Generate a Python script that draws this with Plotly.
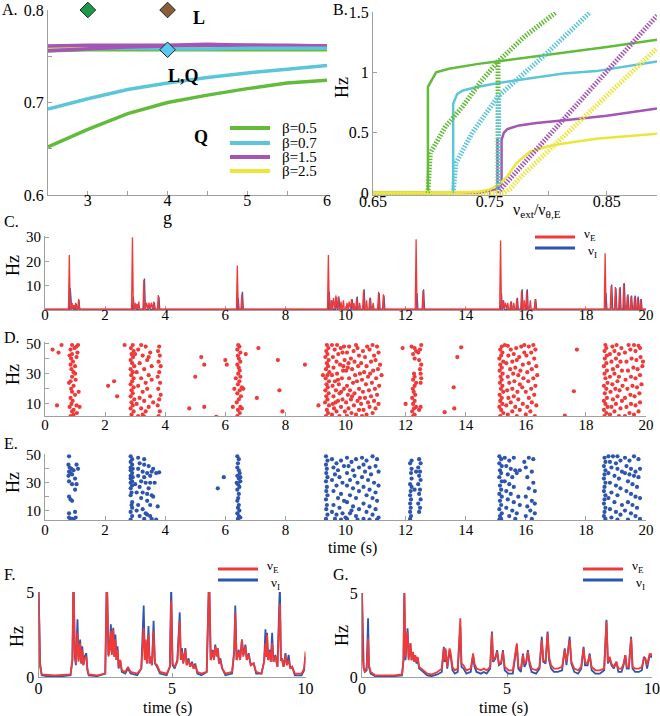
import plotly.graph_objects as go

W, H = 660, 716
FONT = "Liberation Serif"
AXC = "#a0a0a0"
GREEN, CYAN, PURPLE, YELLOW = "#62bb3a", "#5cc6d8", "#a455b5", "#ece63c"
RED, BLUE = "#f03a3a", "#2d55ae"

# ---------------- Panel A data ----------------
A_g = [2.5, 3.0, 3.5, 4.0, 4.5, 5.0, 5.5, 6.0]
A_low_b05 = [0.652, 0.671, 0.688, 0.700, 0.708, 0.715, 0.721, 0.724]
A_low_b07 = [0.693, 0.704, 0.714, 0.721, 0.727, 0.732, 0.736, 0.740]
A_up_b05 = [0.756, 0.757, 0.757, 0.757, 0.757, 0.757, 0.757, 0.757]
A_up_b07 = [0.758, 0.758, 0.759, 0.758, 0.758, 0.759, 0.759, 0.759]
A_up_b25 = [0.760, 0.761, 0.761, 0.761, 0.761, 0.761, 0.761, 0.760]
A_up_b15a = [0.761, 0.762, 0.762, 0.762, 0.763, 0.762, 0.762, 0.761]
A_up_b15b = [0.756, 0.758, 0.760, 0.761, 0.762, 0.762, 0.761, 0.761]
A_beta_labels = ["β=0.5", "β=0.7", "β=1.5", "β=2.5"]
A_diamond_g = [3.0, 4.0, 4.0]
A_diamond_v = [0.8, 0.8, 0.757]

# ---------------- Panel B data ----------------
B_gs_x = [0.65, 0.697, 0.697, 0.704, 0.715, 0.727, 0.74, 0.756, 0.78, 0.813, 0.85, 0.893]
B_gs_y = [0.0, 0.0, 0.88, 1.0, 1.03, 1.05, 1.07, 1.09, 1.12, 1.16, 1.21, 1.27]
B_gd_x = [0.697, 0.699, 0.712, 0.727, 0.742, 0.757, 0.78, 0.807]
B_gd_y = [0.0, 0.33, 0.55, 0.72, 0.92, 1.09, 1.30, 1.5]
B_gv_x = [0.757, 0.757]
B_gv_y = [0.0, 1.09]
B_cs_x = [0.65, 0.7186, 0.7186, 0.722, 0.727, 0.74, 0.756, 0.784, 0.813, 0.841, 0.893]
B_cs_y = [0.0, 0.0, 0.74, 0.82, 0.85, 0.88, 0.91, 0.95, 0.99, 1.01, 1.09]
B_cd_x = [0.7186, 0.721, 0.735, 0.757, 0.80, 0.836]
B_cd_y = [0.0, 0.25, 0.50, 0.80, 1.17, 1.5]
B_cv_x = [0.7575, 0.7575]
B_cv_y = [0.0, 0.80]
B_ps_x = [0.65, 0.74, 0.755, 0.759, 0.760, 0.760, 0.762, 0.765, 0.775, 0.79, 0.82, 0.85, 0.893]
B_ps_y = [0.0, 0.0, 0.03, 0.06, 0.1, 0.44, 0.50, 0.53, 0.56, 0.58, 0.61, 0.64, 0.70]
B_pv_x = [0.7565, 0.7565]
B_pv_y = [0.04, 0.45]
B_pd_x = [0.757, 0.760, 0.893]
B_pd_y = [0.0, 0.04, 1.47]
B_ys_x = [0.65, 0.72, 0.74, 0.75, 0.758, 0.765, 0.773, 0.784, 0.799, 0.813, 0.841, 0.893]
B_ys_y = [0.0, 0.0, 0.01, 0.03, 0.07, 0.14, 0.25, 0.34, 0.385, 0.41, 0.45, 0.49]
B_yd_x = [0.65, 0.762, 0.768, 0.775, 0.893]
B_yd_y = [0.0, 0.0, 0.04, 0.12, 1.2]

# ---------------- Panel C data (peak times / heights) ----------------
C_E_pk_t = [0.81, 0.90, 0.96, 1.02, 1.12,
            2.91, 3.00, 3.06, 3.12, 3.29, 3.38, 3.46, 3.54, 3.62, 3.77,
            6.40, 6.55,
            9.43, 9.52, 9.60, 9.68, 9.76, 9.85, 9.93, 10.05, 10.12, 10.20, 10.28, 10.37, 10.47, 10.60, 10.70, 10.81, 10.92, 11.10, 11.26,
            12.35, 12.58,
            15.16, 15.24, 15.32, 15.40, 15.50, 15.60, 15.70, 15.86, 15.95, 16.03, 16.15, 16.31,
            18.64, 18.84, 18.98, 19.12, 19.26, 19.38, 19.50, 19.62, 19.72, 19.82]
C_E_pk_h = [22.7, 3.0, 2.0, 3.0, 4.5,
            30.0, 3.0, 2.5, 3.5, 12.5, 3.0, 3.0, 3.0, 3.5, 6.2,
            18.3, 6.5,
            22.7, 4.0, 5.0, 6.0, 5.5, 3.5, 4.0, 3.0, 3.5, 4.5, 3.0, 5.0, 3.0, 8.0, 4.0, 5.0, 3.0, 7.5, 6.5,
            29.2, 8.0,
            28.6, 4.0, 3.0, 3.0, 3.5, 3.0, 4.7, 8.0, 4.0, 8.0, 4.0, 4.5,
            23.4, 10.0, 9.5, 9.0, 11.0, 6.0, 5.5, 5.5, 5.0, 4.5]
C_I_pk_t = [0.84, 0.92, 1.04, 1.13, 2.94, 3.02, 3.31, 3.48, 3.64, 3.79, 6.43, 6.57,
            9.46, 9.55, 9.70, 9.78, 10.22, 10.39, 10.62, 10.83, 11.12, 11.28, 12.38, 12.60,
            15.19, 15.26, 15.52, 15.72, 15.88, 16.05, 16.33,
            18.67, 18.86, 19.00, 19.14, 19.28, 19.40, 19.52, 19.64, 19.74, 19.84]
C_I_pk_h = [9.0, 2.0, 2.5, 4.0, 5.5, 2.5, 13.0, 2.5, 3.0, 5.5, 5.0, 7.5,
            7.5, 4.0, 5.0, 5.5, 4.5, 5.5, 8.5, 5.0, 7.0, 6.0, 7.0, 8.5,
            7.0, 4.0, 3.5, 5.0, 8.5, 8.5, 4.5,
            7.0, 10.5, 9.0, 9.5, 11.0, 6.5, 6.0, 6.0, 5.5, 4.5]
C_diamond_t = [0.67]
C_diamond_v = [32.2]

# ---------------- Panel D raster (time s, neuron) ----------------
D_spikes = [
    (0.85,2),(0.95,3),(0.9,5),(0.82,8),(0.88,10),(1.05,9),(0.92,12),(0.85,14),(1.0,16),(0.9,18),(1.12,18),(0.87,20),
    (0.95,22),(0.85,25),(1.02,26),(0.9,28),(0.95,31),(0.88,33),(1.0,35),(0.85,36),(0.93,38),(0.87,40),(1.05,41),(0.9,43),
    (1.08,44),(0.85,46),(0.98,47),(1.05,48),(0.9,49),(1.1,49),(0.95,6),(1.06,4),(0.8,24),(1.0,30),(0.82,42),
    (0.25,46),(0.45,44),(0.55,49),(0.4,9),(1.15,8),
    (2.88,3),(2.95,5),(2.85,7),(2.92,9),(2.88,11),(2.97,13),(2.85,15),(2.92,17),(2.88,19),(2.95,21),(2.85,23),(2.9,25),
    (2.95,27),(2.87,29),(2.92,31),(2.85,33),(2.97,35),(2.9,37),(2.85,39),(2.93,41),(2.88,43),(2.95,45),(2.86,47),(2.92,49),
    (3.1,2),(3.25,3),(3.35,5),(3.2,7),(3.45,8),(3.05,10),(3.3,12),(3.15,14),(3.5,15),(3.25,18),(3.4,20),(3.1,22),(3.35,24),
    (3.2,27),(3.45,29),(3.05,31),(3.3,33),(3.55,35),(3.15,37),(3.4,39),(3.25,42),(3.5,44),(3.1,46),(3.35,48),(3.2,49),
    (3.6,11),(3.55,26),(3.45,41),(3.0,43),(3.3,1.5),
    (3.78,2),(3.82,5),(3.75,9),(3.8,13),(3.85,16),(3.77,20),(3.83,24),(3.75,28),(3.8,31),(3.85,35),(3.78,38),(3.82,42),(3.76,45),(3.8,48),
    (2.1,22),(2.3,25),(2.4,15),(2.65,49),
    (6.4,2),(6.48,4),(6.42,6),(6.5,8),(6.38,11),(6.45,13),(6.52,15),(6.4,17),(6.48,19),(6.55,21),(6.42,23),(6.47,25),
    (6.5,28),(6.43,30),(6.48,32),(6.45,34),(6.4,36),(6.5,38),(6.45,40),(6.42,42),(6.5,44),(6.4,46),(6.47,48),(6.43,49),
    (6.55,7),(6.6,20),(6.35,27),
    (4.8,7),(5.0,28),(5.2,41),(5.3,8),(5.3,36),(5.7,1.5),(6.0,39),(6.05,36),(6.25,8),(6.3,20),(6.68,43),(7.1,47),(7.05,14),
    (7.75,39),(7.8,19),(7.9,5),(8.65,36),
    (9.35,2),(9.42,4),(9.38,6),(9.45,9),(9.32,11),(9.4,13),(9.36,15),(9.44,17),(9.33,19),(9.41,21),(9.37,23),(9.45,25),
    (9.34,27),(9.4,29),(9.46,31),(9.35,33),(9.42,35),(9.38,37),(9.44,39),(9.33,41),(9.4,43),(9.36,45),(9.43,47),(9.38,49),
    (9.55,3),(9.7,5),(9.62,7),(9.85,8),(9.58,10),(9.75,12),(9.9,13),(9.6,15),(9.8,17),(9.68,19),(9.95,20),(9.57,22),
    (9.78,23),(9.65,25),(9.88,27),(9.55,29),(9.72,30),(9.92,32),(9.6,34),(9.82,36),(9.7,38),(9.97,39),(9.58,41),(9.76,43),
    (9.9,44),(9.64,46),(9.84,47),(9.55,49),(9.72,49),(9.95,48),(9.8,2),(9.98,5),(9.67,11),(9.86,18),(9.75,26),(9.93,35),
    (10.05,2),(10.2,4),(10.35,3),(10.1,7),(10.28,9),(10.45,6),(10.02,11),(10.18,13),(10.4,12),(10.08,16),(10.3,17),
    (10.15,19),(10.45,20),(10.05,22),(10.25,24),(10.38,25),(10.12,27),(10.32,29),(10.48,30),(10.02,32),(10.22,33),
    (10.42,35),(10.1,37),(10.3,38),(10.18,40),(10.45,42),(10.05,44),(10.27,45),(10.4,47),(10.12,48),(10.35,49),
    (10.22,15),(10.48,14),(10.08,34),
    (10.55,2),(10.7,3),(10.9,4),(10.6,6),(10.8,8),(11.0,7),(10.52,10),(10.75,11),(10.95,12),(11.1,10),(10.65,14),
    (10.85,15),(11.05,16),(10.58,18),(10.78,19),(10.98,20),(11.12,22),(10.68,23),(10.88,24),(10.55,26),(11.02,27),
    (10.75,28),(11.2,29),(10.62,31),(10.92,32),(11.08,33),(10.7,35),(10.52,37),(10.85,38),(11.0,39),(10.65,41),
    (10.95,42),(11.1,44),(10.58,45),(10.8,46),(10.72,48),(10.9,49),(11.05,48),(11.15,36),(10.82,30),
    (9.1,9),(9.25,29),
    (12.25,2),(12.3,3),(12.22,5),(12.28,7),(12.35,8),(12.25,10),(12.3,12),(12.22,14),(12.32,16),(12.27,18),(12.24,20),
    (12.3,22),(12.35,24),(12.25,26),(12.3,28),(12.28,30),(12.5,24),(12.52,27),(12.5,30),(12.48,33),(12.52,36),(12.45,39),
    (12.3,40),(12.25,43),(12.35,45),(12.48,46),(12.3,47),(12.52,49),(12.2,48),(12.5,8),(12.45,6),(12.42,44),
    (11.9,47),(12.0,10),(13.3,4.5),(13.6,21),(13.62,7),(13.72,41),(13.85,47.5),
    (15.15,2),(15.25,4),(15.18,6),(15.12,8),(15.22,10),(15.15,12),(15.2,14),(15.13,16),(15.25,18),(15.17,20),(15.22,22),
    (15.14,24),(15.2,26),(15.16,28),(15.23,30),(15.13,32),(15.2,34),(15.15,36),(15.25,38),(15.12,40),(15.18,42),
    (15.22,44),(15.15,46),(15.2,48),(15.3,49),
    (15.4,3),(15.55,5),(15.7,2),(15.35,9),(15.5,11),(15.65,8),(15.8,6),(15.42,14),(15.6,15),(15.75,13),(15.9,10),
    (15.38,19),(15.55,20),(15.72,18),(15.88,21),(15.45,24),(15.62,25),(15.8,23),(15.4,28),(15.58,30),(15.75,29),
    (15.92,27),(15.48,33),(15.65,34),(15.82,32),(15.35,37),(15.55,38),(15.7,39),(15.9,36),(15.42,42),(15.6,43),
    (15.78,41),(15.95,44),(15.5,46),(15.68,47),(15.85,48),(15.4,48.5),(15.95,49),
    (16.0,3),(16.15,5),(16.3,2),(16.05,8),(16.2,11),(16.35,9),(16.1,14),(16.28,16),(16.0,18),(16.18,20),(16.32,22),
    (16.08,25),(16.25,27),(16.38,29),(16.05,31),(16.2,33),(16.35,35),(16.1,37),(16.28,40),(16.02,42),(16.18,44),
    (16.32,46),(16.1,48),(16.25,49),
    (17.3,2.2),(17.6,18.4),(17.7,46),
    (18.62,2),(18.68,4),(18.6,6),(18.72,8),(18.65,10),(18.6,12),(18.7,14),(18.63,17),(18.68,20),(18.6,22),(18.72,24),
    (18.65,27),(18.62,30),(18.7,32),(18.6,35),(18.68,37),(18.63,40),(18.7,42),(18.62,45),(18.68,47),(18.65,49),
    (18.8,3),(18.95,5),(19.1,2),(18.85,8),(19.0,10),(19.15,7),(18.9,13),(19.05,15),(19.2,12),(18.82,18),(18.98,20),
    (19.12,19),(18.88,23),(19.05,25),(19.22,22),(18.8,28),(18.95,30),(19.1,28),(18.9,33),(19.05,35),(19.2,32),
    (18.85,38),(19.0,40),(19.15,38),(18.8,43),(18.95,45),(19.1,43),(18.88,48),(19.02,49),(19.18,47),
    (19.3,2),(19.45,4),(19.6,3),(19.75,5),(19.35,8),(19.5,10),(19.65,9),(19.8,11),(19.3,14),(19.48,16),(19.62,15),
    (19.78,17),(19.38,20),(19.55,22),(19.7,21),(19.85,23),(19.32,26),(19.5,28),(19.65,27),(19.8,29),(19.4,32),
    (19.58,34),(19.72,33),(19.88,35),(19.35,38),(19.52,40),(19.68,39),(19.82,41),(19.3,44),(19.48,46),(19.65,45),
    (19.8,47),(19.42,49),(19.6,49),(19.75,48.5),(19.9,38),
]

# ---------------- Panel E raster (time s, neuron) ----------------
E_spikes = [
    (0.8,49),(0.78,43),(0.82,41),(0.88,40),(0.8,38),(0.85,37),(0.9,36),(0.78,35),(0.95,39),(1.05,43),(1.1,40),(0.8,31),
    (0.9,29),(1.05,29),(1.0,33),(1.0,25),(0.8,20),(0.85,18),(0.9,17),(0.8,8),(1.0,9),(0.8,5),(0.9,4),(0.85,3.5),
    (0.95,3.5),(1.02,5),
    (2.85,49),(2.9,47),(2.85,45),(2.9,43),(2.85,41),(2.92,40),(2.85,39),(2.9,37),(2.85,35),(2.92,34),(2.85,33),(2.9,31),
    (2.85,30),(2.9,28),(2.85,26),(2.88,23),(2.85,21),(2.9,16),(2.88,14),(2.85,9),(2.9,6),(2.85,3.5),(2.9,12),
    (3.1,48),(3.3,47),(3.15,44),(3.3,43),(3.45,42),(3.6,40),(3.1,40),(3.25,38),(3.4,37),(3.55,38),(3.7,37),(3.8,37.5),
    (3.1,35),(3.3,34),(3.5,35),(3.2,31),(3.35,30),(3.5,30),(3.65,30),(3.0,29),(3.15,27),(3.45,26),(3.25,23),(3.4,22),
    (3.05,23),(3.55,21),(3.6,20),(3.2,19),(3.4,17),(3.1,14),(3.5,14),(3.75,13),(3.25,11),(3.05,10),(3.4,7),(3.15,6),
    (3.5,6),(3.3,4),(3.7,3.5),(3.55,4),(3.35,8),
    (6.4,49),(6.45,47),(6.42,44),(6.4,41),(6.45,39),(6.48,37),(6.4,35),(6.45,33),(6.5,31),(6.42,29),(6.47,27),(6.4,25),
    (6.45,22),(6.43,19),(6.4,17),(6.45,14),(6.42,12),(6.47,10),(6.4,8),(6.45,6),(6.42,4),(6.5,5),(6.38,30),(6.5,34),
    (5.75,26),(5.95,34),
    (9.35,49),(9.4,46),(9.35,43),(9.38,40),(9.36,37),(9.4,34),(9.35,31),(9.38,27),(9.36,24),(9.4,21),(9.35,18),(9.38,14),
    (9.36,11),(9.4,7),(9.35,4),
    (9.55,47),(9.7,44),(9.85,46),(9.6,41),(9.75,39),(9.95,42),(9.65,36),(9.8,34),(9.55,32),(9.9,30),(9.7,28),(9.6,24),
    (9.85,22),(9.75,19),(9.95,17),(9.6,14),(9.8,12),(9.55,9),(9.7,7),(9.9,8),(9.65,4),(9.85,3.5),(10.0,5),
    (10.05,48),(10.2,45),(10.35,47),(10.1,42),(10.25,39),(10.45,41),(10.05,37),(10.3,35),(10.15,32),(10.4,30),(10.05,28),
    (10.25,26),(10.45,24),(10.15,21),(10.35,19),(10.05,16),(10.25,13),(10.45,11),(10.15,8),(10.35,6),(10.05,4),
    (10.4,3.5),(10.2,10),
    (10.55,48),(10.7,46),(10.9,49),(11.05,47),(10.6,43),(10.8,41),(11.0,42),(10.65,38),(10.85,36),(11.1,38),(10.55,34),
    (10.75,32),(10.95,30),(11.1,28),(10.6,27),(10.8,25),(11.0,23),(10.7,21),(10.9,19),(11.05,17),(10.6,15),(10.8,13),
    (11.0,11),(10.7,9),(10.9,7),(11.1,5),(10.6,4),(10.8,3.5),(11.05,3.5),
    (12.15,4),(12.18,6),(12.15,9),(12.17,12),(12.15,15),(12.18,18),(12.15,21),(12.17,24),(12.2,27),(12.15,29),(12.2,33),
    (12.18,37),(12.2,40),(12.15,44),(12.2,46),(12.45,47),(12.5,44),(12.42,41),(12.48,38),(12.45,35),(12.5,32),(12.42,29),
    (12.48,25),(12.45,22),(12.5,18),(12.42,15),(12.48,12),(12.45,9),(12.3,25),(12.35,38),
    (15.12,49),(15.18,47),(15.12,44),(15.2,42),(15.14,39),(15.18,37),(15.12,34),(15.2,31),(15.14,28),(15.18,25),
    (15.12,22),(15.2,20),(15.14,17),(15.18,14),(15.12,11),(15.2,8),(15.14,6),(15.18,4),(15.12,3.5),
    (15.3,48),(15.45,46),(15.6,48),(15.35,42),(15.5,40),(15.65,39),(15.8,39),(15.4,36),(15.55,34),(15.7,37),(15.3,31),
    (15.45,29),(15.6,27),(15.35,24),(15.5,22),(15.75,20),(15.4,18),(15.6,16),(15.8,14),(15.35,12),(15.55,10),(15.7,8),
    (15.45,6),(15.65,4),
    (15.95,45),(16.1,48),(16.25,47),(16.0,41),(16.2,38),(16.05,34),(16.25,30),(16.1,26),(16.3,24),(16.0,20),(16.2,17),
    (16.3,15),(16.05,13),(16.15,10),(16.3,8),(16.0,6),(16.2,4),
    (18.62,48),(18.65,45),(18.6,42),(18.65,39),(18.62,36),(18.6,33),(18.65,30),(18.62,27),(18.6,24),(18.65,21),
    (18.62,18),(18.6,15),(18.65,12),(18.62,9),(18.6,6),(18.65,4),
    (18.75,49),(18.9,49),(19.05,49),(18.8,45),(19.0,44),(19.15,46),(18.85,41),(19.05,40),(19.2,38),(18.75,37),
    (18.95,35),(19.1,33),(18.8,30),(19.0,28),(19.15,26),(18.85,23),(19.05,21),(18.75,19),(18.95,16),(19.2,14),
    (18.8,11),(19.0,9),(19.15,7),(18.85,5),(19.05,3.5),
    (19.3,48),(19.45,46),(19.6,49),(19.75,47),(19.35,42),(19.5,40),(19.65,38),(19.8,40),(19.3,37),(19.45,36),
    (19.6,35),(19.75,34),(19.4,31),(19.55,29),(19.7,27),(19.35,24),(19.5,22),(19.65,20),(19.8,19),(19.4,16),
    (19.55,14),(19.7,12),(19.3,10),(19.5,8),(19.65,6),(19.8,4),(19.4,3.5),
]

# ---------------- Panel F data (time, nu_E, nu_I) ----------------
F_t = [0.00, 0.03, 0.06, 0.12, 0.3, 0.6, 0.9, 1.2, 1.27, 1.31, 1.36, 1.40, 1.46, 1.50, 1.56, 1.60, 1.64, 1.68, 1.73,
       1.79, 1.83, 1.88, 2.2, 2.5, 2.56, 2.62, 2.67, 2.71, 2.75, 2.80, 2.84, 2.88, 2.92, 2.96, 3.00, 3.06, 3.12, 3.25,
       3.35, 3.45, 3.7, 3.85, 3.94, 3.98, 4.02, 4.06, 4.12, 4.16, 4.20, 4.25, 4.31, 4.36, 4.44, 4.55, 4.8, 4.92, 4.97,
       5.02, 5.10, 5.20, 5.29, 5.33, 5.37, 5.42, 5.50, 5.55, 5.62, 5.68, 5.75, 5.81, 5.87, 5.95, 6.1, 6.3, 6.39, 6.45,
       6.52, 6.57, 6.62, 6.67, 6.72, 6.76, 6.81, 6.88, 7.0, 7.25, 7.33, 7.37, 7.42, 7.50, 7.55, 7.62, 7.67, 7.75, 7.80,
       7.87, 7.95, 8.06, 8.15, 8.35, 8.45, 8.50, 8.53, 8.56, 8.60, 8.66, 8.70, 8.75, 8.80, 8.87, 8.95, 9.04, 9.08, 9.12,
       9.18, 9.25, 9.30, 9.37, 9.43, 9.50, 9.60, 9.85, 9.95, 10.0]
F_E = [5.5, 2.0, 0.6, 0.15, 0.12, 0.1, 0.12, 0.15, 1.0, 6.0, 1.5, 0.8, 2.6, 0.9, 2.0, 0.8, 1.6, 0.7, 1.1,
       1.2, 0.5, 0.15, 0.1, 0.2, 6.0, 1.2, 1.6, 2.7, 1.3, 2.8, 1.2, 2.2, 1.0, 1.6, 0.6, 1.0, 0.4, 0.3,
       0.6, 0.3, 0.2, 0.5, 2.9, 1.0, 2.2, 0.8, 2.5, 0.8, 1.2, 0.7, 2.7, 0.8, 0.7, 0.3, 0.2, 0.6, 4.5,
       0.8, 0.6, 0.9, 3.3, 1.0, 1.5, 0.8, 1.6, 0.7, 1.0, 0.6, 0.8, 0.5, 0.7, 0.3, 0.2, 0.3, 6.0, 1.0,
       1.5, 1.0, 1.8, 1.2, 1.7, 0.8, 1.0, 0.5, 0.2, 0.3, 1.5, 3.8, 1.0, 1.5, 1.0, 2.2, 1.2, 1.8, 1.0,
       1.3, 0.7, 0.8, 0.3, 0.2, 0.9, 2.0, 1.2, 2.5, 1.0, 1.5, 0.9, 2.0, 0.9, 1.2, 0.6, 4.3, 1.0, 1.0,
       0.6, 1.3, 0.7, 1.0, 0.5, 0.6, 0.2, 0.2, 0.5, 1.5]
F_I = [5.5, 3.0, 0.8, 0.1, 0.05, 0.05, 0.05, 0.1, 1.0, 6.0, 1.2, 0.7, 3.4, 1.0, 2.2, 0.8, 1.8, 0.7, 1.2,
       1.4, 0.4, 0.1, 0.05, 0.2, 6.0, 1.3, 1.8, 3.1, 1.5, 2.9, 1.2, 2.5, 1.0, 1.8, 0.5, 1.0, 0.3, 0.2,
       0.5, 0.2, 0.1, 0.5, 4.2, 1.2, 2.0, 0.8, 3.0, 0.8, 1.2, 0.7, 3.3, 0.8, 0.6, 0.2, 0.1, 0.6, 5.5,
       0.7, 0.5, 1.0, 3.8, 1.0, 1.7, 0.8, 1.7, 0.7, 1.1, 0.6, 0.9, 0.5, 0.8, 0.2, 0.1, 0.3, 6.0, 1.0,
       1.6, 1.1, 1.9, 1.3, 1.5, 0.8, 1.1, 0.5, 0.1, 0.2, 1.5, 4.2, 1.0, 1.6, 1.0, 2.2, 1.3, 1.9, 1.0,
       1.4, 0.7, 0.8, 0.2, 0.2, 0.9, 2.8, 1.2, 2.6, 1.0, 1.6, 0.9, 2.6, 0.9, 1.3, 0.6, 5.5, 1.0, 1.1,
       0.6, 1.4, 0.7, 1.3, 0.5, 0.6, 0.1, 0.1, 0.4, 1.2]

# ---------------- Panel G data (time, nu_E, nu_I) ----------------
G_t = [0.00, 0.03, 0.06, 0.10, 0.16, 0.21, 0.24, 0.30, 0.45, 0.8, 1.1, 1.38, 1.43, 1.46, 1.50, 1.57, 1.61, 1.67, 1.71,
       1.76, 1.80, 1.84, 1.88, 1.92, 1.97, 2.05, 2.13, 2.25, 2.4, 2.6, 2.75, 2.82, 2.85, 2.88, 2.94, 3.02, 3.06, 3.12,
       3.20, 3.30, 3.39, 3.43, 3.50, 3.60, 3.75, 3.83, 3.88, 3.95, 4.1, 4.2, 4.3, 4.42, 4.48, 4.52, 4.60, 4.66, 4.72,
       4.80, 4.86, 4.92, 5.05, 5.2, 5.34, 5.39, 5.48, 5.55, 5.60, 5.66, 5.72, 5.78, 5.85, 6.0, 6.12, 6.20, 6.25, 6.33,
       6.40, 6.45, 6.52, 6.62, 6.75, 6.9, 6.99, 7.05, 7.16, 7.22, 7.32, 7.45, 7.56, 7.64, 7.69, 7.78, 7.85, 7.92, 8.05,
       8.2, 8.35, 8.43, 8.48, 8.54, 8.60, 8.68, 8.77, 8.84, 8.95, 9.02, 9.08, 9.13, 9.20, 9.28, 9.33, 9.42, 9.55, 9.65,
       9.72, 9.77, 9.83, 9.92, 9.97, 10.0]
G_E = [5.0, 1.0, 0.5, 0.3, 0.6, 2.3, 0.7, 0.3, 0.1, 0.1, 0.1, 0.15, 1.0, 5.0, 1.2, 2.7, 1.0, 2.0, 1.0,
       1.5, 0.9, 1.3, 0.9, 1.2, 0.6, 0.5, 0.4, 0.2, 0.15, 0.3, 0.5, 1.7, 1.0, 1.7, 0.6, 1.7, 1.4, 0.6,
       0.4, 0.5, 3.5, 0.8, 0.7, 0.4, 0.5, 1.4, 0.8, 0.5, 0.4, 0.5, 0.4, 0.6, 2.6, 1.0, 1.2, 1.5, 0.8,
       0.9, 1.5, 0.6, 0.4, 0.4, 2.0, 0.6, 0.5, 1.3, 0.8, 0.9, 1.5, 0.9, 0.5, 0.4, 0.6, 2.2, 1.0, 0.9,
       2.6, 1.2, 0.7, 0.5, 0.5, 0.6, 1.6, 0.9, 2.2, 0.9, 0.5, 0.4, 0.6, 1.7, 0.9, 0.8, 1.3, 0.6, 0.4,
       0.4, 0.5, 3.3, 0.9, 1.2, 0.8, 0.6, 0.9, 0.5, 0.5, 0.8, 1.3, 0.6, 0.6, 2.3, 0.6, 0.5, 0.5, 0.6,
       1.1, 1.1, 0.7, 1.4, 1.3, 1.4]
G_I = [5.0, 2.4, 0.5, 0.3, 0.4, 3.5, 0.6, 0.2, 0.05, 0.05, 0.05, 0.1, 1.0, 5.0, 1.0, 2.9, 1.1, 2.0, 1.0,
       1.4, 0.9, 1.2, 0.8, 1.1, 0.5, 0.4, 0.3, 0.1, 0.05, 0.15, 0.3, 1.8, 0.9, 1.6, 0.5, 1.6, 1.2, 0.4,
       0.2, 0.3, 3.0, 0.6, 0.5, 0.2, 0.3, 1.3, 0.6, 0.3, 0.2, 0.3, 0.2, 0.5, 2.7, 0.9, 1.1, 1.6, 0.7,
       0.8, 1.6, 0.4, 0.2, 0.2, 1.9, 0.5, 0.3, 1.4, 0.6, 0.8, 1.6, 0.7, 0.3, 0.2, 0.5, 2.4, 0.9, 0.8,
       2.7, 1.0, 0.5, 0.3, 0.3, 0.4, 1.7, 0.7, 2.4, 0.8, 0.3, 0.2, 0.5, 1.8, 0.7, 0.7, 1.4, 0.4, 0.2,
       0.2, 0.4, 3.4, 0.8, 1.1, 0.7, 0.5, 0.9, 0.3, 0.3, 0.7, 1.3, 0.5, 0.5, 2.4, 0.5, 0.3, 0.3, 0.4,
       1.2, 1.1, 0.5, 1.3, 1.2, 1.3]
FG_diamond_t = [0.53]
FG_diamond_v = [6.0]


# ---------------- helpers ----------------
def dx(p0, p1):
    return [p0 / W, p1 / W]


def dy(top, bottom):
    return [1 - bottom / H, 1 - top / H]


def spikes(tpk, hpk, base, hw, t0, t1):
    xs, ys = [t0], [base]
    for t, h in zip(tpk, hpk):
        xs += [t - hw, t, t + hw]
        ys += [base, h, base]
    xs.append(t1)
    ys.append(base)
    return xs, ys


fig = go.Figure()


def line(x, y, color, width, xa, ya, dash=None):
    fig.add_trace(go.Scatter(x=x, y=y, mode="lines", xaxis=xa, yaxis=ya, hoverinfo="skip",
                             line=dict(color=color, width=width, dash=dash)))


def diamond(x, y, color, xa, ya):
    fig.add_trace(go.Scatter(x=x, y=y, mode="markers", xaxis=xa, yaxis=ya, cliponaxis=False,
                             marker=dict(symbol="diamond", size=12, color=color,
                                         line=dict(color="#222222", width=1))))


# Panel A
line(A_g, A_low_b05, GREEN, 3.5, "x", "y")
line(A_g, A_low_b07, CYAN, 3.5, "x", "y")
line(A_g, A_up_b05, GREEN, 3.5, "x", "y")
line(A_g, A_up_b07, CYAN, 3.5, "x", "y")
line(A_g, A_up_b25, YELLOW, 3.5, "x", "y")
line(A_g, A_up_b15b, PURPLE, 3.5, "x", "y")
line(A_g, A_up_b15a, PURPLE, 3.5, "x", "y")
line(A_g[3:], A_up_b07[3:], CYAN, 3.0, "x", "y")
diamond(A_diamond_g[:1], A_diamond_v[:1], "#1c9a4a", "x", "y")
diamond(A_diamond_g[1:2], A_diamond_v[1:2], "#8a5c3a", "x", "y")
diamond(A_diamond_g[2:], A_diamond_v[2:], "#5ac8ee", "x", "y")

# Panel B
HATCH = "1.5px,1.5px"
line(B_gs_x, B_gs_y, GREEN, 2.5, "x2", "y2")
line(B_cs_x, B_cs_y, CYAN, 2.5, "x2", "y2")
line(B_ps_x, B_ps_y, PURPLE, 2.5, "x2", "y2")
line(B_pv_x, B_pv_y, PURPLE, 2.5, "x2", "y2")
line(B_ys_x, B_ys_y, YELLOW, 2.5, "x2", "y2")
line(B_gd_x, B_gd_y, GREEN, 5, "x2", "y2", HATCH)
line(B_gv_x, B_gv_y, GREEN, 5, "x2", "y2", HATCH)
line(B_cd_x, B_cd_y, CYAN, 5, "x2", "y2", HATCH)
line(B_cv_x, B_cv_y, CYAN, 5, "x2", "y2", HATCH)
line(B_pd_x, B_pd_y, PURPLE, 5, "x2", "y2", HATCH)
line(B_yd_x, B_yd_y, YELLOW, 5, "x2", "y2", HATCH)

# Panel C
cix, ciy = spikes(C_I_pk_t, C_I_pk_h, 0.2, 0.03, 0.0, 20.0)
cex, cey = spikes(C_E_pk_t, C_E_pk_h, 0.3, 0.03, 0.0, 20.0)
line(cix, ciy, BLUE, 1.3, "x3", "y3")
line(cex, cey, RED, 1.3, "x3", "y3")
diamond(C_diamond_t, C_diamond_v, "#5ac8ee", "x3", "y3")

# Panel D / E rasters
fig.add_trace(go.Scatter(x=[s[0] for s in D_spikes], y=[s[1] for s in D_spikes], mode="markers",
                         xaxis="x4", yaxis="y4", marker=dict(color=RED, size=4.2, line=dict(width=0))))
fig.add_trace(go.Scatter(x=[s[0] for s in E_spikes], y=[s[1] for s in E_spikes], mode="markers",
                         xaxis="x5", yaxis="y5", marker=dict(color=BLUE, size=4.2, line=dict(width=0))))

# Panel F / G
line(F_t, F_I, BLUE, 1.8, "x6", "y6")
line(F_t, F_E, RED, 1.8, "x6", "y6")
diamond(FG_diamond_t, FG_diamond_v, "#1c9a4a", "x6", "y6")
line(G_t, G_I, BLUE, 1.8, "x7", "y7")
line(G_t, G_E, RED, 1.8, "x7", "y7")
diamond(FG_diamond_t, FG_diamond_v, "#8a5c3a", "x7", "y7")


def axis(domain, rng, anchor, size=15, **kw):
    d = dict(domain=domain, range=rng, anchor=anchor, showline=True, linecolor=AXC, linewidth=1,
             ticks="inside", tickcolor=AXC, ticklen=4, tickwidth=1, showgrid=False, zeroline=False,
             automargin=False, tickfont=dict(family=FONT, size=size, color="black"), layer="below traces")
    d.update(kw)
    return d


def minor(vals):
    return dict(tickvals=vals, ticks="inside", ticklen=4, tickcolor=AXC)


fig.update_layout(
    template="none",
    width=W, height=H, margin=dict(l=0, r=0, t=0, b=0, pad=0), showlegend=False, autosize=False,
    paper_bgcolor="white", plot_bgcolor="white",
    xaxis=axis(dx(48, 327), [2.5, 6], "y", 16, tickvals=[3, 4, 5, 6], minor=minor([3.5, 4.5, 5.5]),
               ticklabelstandoff=-9),
    yaxis=axis(dy(10, 195), [0.6, 0.8], "x", 16, tickvals=[0.6, 0.7, 0.8], ticktext=["0.6", "0.7", "0.8"],
               minor=minor([0.65, 0.75])),
    xaxis2=axis(dx(373, 657), [0.65, 0.893], "y2", 16, tickvals=[0.65, 0.75, 0.85],
                ticktext=["0.65", "0.75", "0.85"], minor=minor([0.7, 0.8]), ticklabelstandoff=-9),
    yaxis2=axis(dy(12, 195.4), [-0.02, 1.5], "x2", 16, tickvals=[0, 0.5, 1, 1.5], ticktext=["0", "0.5", "1", "1.5"]),
    xaxis3=axis(dx(45, 646), [0, 20], "y3", 15, tickvals=list(range(0, 21, 2)), ticklabelstandoff=-9),
    yaxis3=axis(dy(236, 310), [0, 30.5], "x3", 15, tickvals=[10, 20, 30]),
    xaxis4=axis(dx(45, 646), [0, 20], "y4", 15, tickvals=list(range(0, 21, 2)), ticklabelstandoff=-5),
    yaxis4=axis(dy(342, 416), [2, 51], "x4", 15, tickvals=[10, 30, 50], minor=minor([20, 40])),
    xaxis5=axis(dx(45, 646), [0, 20], "y5", 15, tickvals=list(range(0, 21, 2)), ticklabelstandoff=-4),
    yaxis5=axis(dy(454, 520), [3.2, 50.7], "x5", 15, tickvals=[10, 30, 50], minor=minor([20, 40])),
    xaxis6=axis(dx(38.5, 305.5), [0, 10], "y6", 16, tickvals=[0, 5, 10], ticklabelstandoff=-3),
    yaxis6=axis(dy(592, 677), [0, 5], "x6", 16, tickvals=[0, 5]),
    xaxis7=axis(dx(362, 652), [0, 10], "y7", 16, tickvals=[0, 5, 10], ticklabelstandoff=-3),
    yaxis7=axis(dy(593, 677), [0, 5], "x7", 16, tickvals=[0, 5]),
)

ann = []


def txt(s, px, py, size=16, xanchor="center", yanchor="middle", angle=0):
    ann.append(dict(text=s, x=px / W, y=1 - py / H, xref="paper", yref="paper", showarrow=False,
                    font=dict(family=FONT, size=size, color="black"), xanchor=xanchor, yanchor=yanchor,
                    textangle=angle))


def dtxt(s, x, y, xa, ya, size=18):
    ann.append(dict(text=s, x=x, y=y, xref=xa, yref=ya, showarrow=False,
                    font=dict(family=FONT, size=size, color="black"), xanchor="center", yanchor="middle"))


txt("A.", 0, 9, 16, "left")
txt("B.", 331, 9, 16, "left")
txt("C.", 2, 222, 16, "left")
txt("D.", 2, 337, 16, "left")
txt("E.", 2, 443, 16, "left")
txt("F.", 2, 574, 16, "left")
txt("G.", 331, 574, 16, "left")
dtxt("<b>L</b>", 4.4, 0.791, "x", "y")
dtxt("<b>L,Q</b>", 4.2, 0.729, "x", "y")
dtxt("<b>Q</b>", 4.42, 0.663, "x", "y")
txt("g", 167, 218, 18)
txt("ν<sub>ext</sub>/ν<sub>θ,E</sub>", 537, 211, 16)
txt("Hz", 342, 88, 18, angle=-90)
txt("Hz", 13, 265, 18, angle=-90)
txt("Hz", 13, 374, 18, angle=-90)
txt("Hz", 13, 482, 18, angle=-90)
txt("time (s)", 352, 548, 16)
txt("Hz", 17, 637, 18, angle=-90)
txt("Hz", 342, 636, 18, angle=-90)
txt("time (s)", 168, 708, 16)
txt("time (s)", 503, 708, 16)

shapes = []


def lseg(x0, x1, py, color, width):
    shapes.append(dict(type="line", xref="paper", yref="paper", x0=x0 / W, x1=x1 / W,
                       y0=1 - py / H, y1=1 - py / H, line=dict(color=color, width=width)))


for lab, col, py in zip(A_beta_labels, [GREEN, CYAN, PURPLE, YELLOW], [128, 143, 157, 171]):
    lseg(230, 270, py, col, 4)
    txt(lab, 280, py, 15, "left")

for x0, x1, tx, yE, yI in [(535, 575, 582, 237, 248), (218, 258, 265, 569, 580), (583, 623, 630, 569, 580)]:
    lseg(x0, x1, yE, RED, 3)
    lseg(x0, x1, yI, BLUE, 3)
    txt("ν<sub>E</sub>", tx, yE - 3, 13, "left")
    txt("ν<sub>I</sub>", tx + 4, yI + 3, 13, "left")

fig.update_layout(annotations=ann, shapes=shapes)
fig.write_html(
    "out.html",
    config={"displayModeBar": False},
    post_script="document.documentElement.style.overflow='hidden';document.body.style.margin='0px';"
                "document.body.style.overflow='hidden';",
)
